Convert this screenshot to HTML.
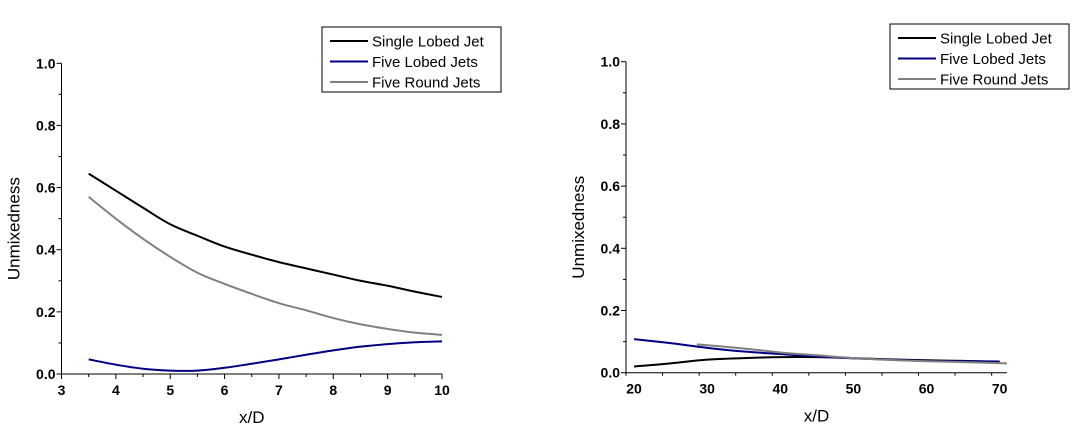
<!DOCTYPE html>
<html><head><meta charset="utf-8"><style>
html,body{margin:0;padding:0;background:#fff;}
svg{display:block;font-family:"Liberation Sans",Arial,sans-serif;}
</style></head><body>
<svg id="chart" width="1077" height="436"></svg>
<script>
const leftX=[3.5,4,4.5,5,5.5,6,6.5,7,7.5,8,8.5,9,9.5,10];
const leftSingle=[0.645,0.59,0.535,0.482,0.445,0.41,0.384,0.36,0.34,0.32,0.30,0.284,0.265,0.248];
const leftRound=[0.57,0.5,0.435,0.377,0.326,0.29,0.258,0.228,0.205,0.18,0.16,0.145,0.133,0.126];
const leftLobed=[0.047,0.03,0.017,0.011,0.011,0.02,0.033,0.047,0.062,0.076,0.088,0.096,0.102,0.105];
const rightX=[20,25,30,35,40,45,50,55,60,65,70];
const rightSingle=[0.02,0.03,0.042,0.047,0.05,0.05,0.047,0.043,0.04,0.038,0.035];
const rightLobed=[0.108,0.095,0.08,0.068,0.06,0.052,0.046,0.042,0.038,0.037,0.036];
const rightRoundX=[28.6,35,40,45,50,55,60,65,71];
const rightRound=[0.091,0.078,0.065,0.056,0.047,0.041,0.037,0.034,0.03];
const leftXTicks=[3,4,5,6,7,8,9,10];
const rightXTicks=[20,30,40,50,60,70];
const yTicks=[0,0.2,0.4,0.6,0.8,1.0];
const legendLabels=["Single Lobed Jet","Five Lobed Jets","Five Round Jets"];
const colors=["#000000","#000080","#808080"];

const NS="http://www.w3.org/2000/svg";
const svg=document.getElementById('chart');
function mk(tag,attrs,parent){const e=document.createElementNS(NS,tag);for(const k in attrs)e.setAttribute(k,attrs[k]);(parent||svg).appendChild(e);return e;}
function smooth(pts){let d="M"+pts[0][0]+","+pts[0][1];for(let i=0;i<pts.length-1;i++){const p0=pts[i-1]||pts[i],p1=pts[i],p2=pts[i+1],p3=pts[i+2]||p2;d+=" C"+(p1[0]+(p2[0]-p0[0])/6)+","+(p1[1]+(p2[1]-p0[1])/6)+" "+(p2[0]-(p3[0]-p1[0])/6)+","+(p2[1]-(p3[1]-p1[1])/6)+" "+p2[0]+","+p2[1];}return d;}

function panel(o){
  const g=mk('g',{});
  
  
  const sx=v=>o.x0+(v-o.xmin)/(o.xmax-o.xmin)*(o.x1-o.x0);
  const sy=v=>o.y0-(v)*(o.y0-o.y1);
  const yax=mk('line',{x1:o.x0,y1:o.y0,x2:o.x0,y2:o.y1,stroke:'#000','stroke-width':1},g);
  
  const xax=mk('line',{x1:o.x0,y1:o.y0,x2:o.x1,y2:o.y0,stroke:'#000','stroke-width':1},g);
  
  for(let i=0;i<=10;i++){const v=i/10,y=sy(v),major=i%2===0;
    mk('line',{x1:o.x0-(major?5:3),y1:y,x2:o.x0,y2:y,stroke:'#000'},g);
  }
  yTicks.forEach(v=>{const t=mk('text',{x:o.x0-6,y:sy(v)+5,'text-anchor':'end','font-size':14,'font-weight':'bold'},g);t.textContent=v.toFixed(1);
    });
  for(let v=o.xmin;v<=o.xmax+1e-9;v+=o.minor){const x=sx(v);const major=Math.abs(v/o.major-Math.round(v/o.major))<1e-6;
    mk('line',{x1:x,y1:o.y0,x2:x,y2:o.y0+(major?5:3),stroke:'#000'},g);}
  o.xticks.forEach(v=>{const t=mk('text',{x:sx(v),y:o.y0+21,'text-anchor':'middle','font-size':14,'font-weight':'bold'},g);t.textContent=v;
    });
  const xt=mk('text',{x:(o.x0+o.x1)/2,y:o.y0+49,'text-anchor':'middle','font-size':17},g);xt.textContent='x/D';
  
  const yt=mk('text',{x:0,y:0,'text-anchor':'middle','font-size':17,transform:'translate('+(o.x0-42)+','+((o.y0+o.y1)/2+10)+') rotate(-90)'},g);yt.textContent='Unmixedness';
  
  o.series.forEach((s,i)=>{const pts=s.x.map((v,j)=>[sx(v),sy(s.y[j])]);
    const p=mk('path',{d:smooth(pts),fill:'none',stroke:colors[s.c],'stroke-width':2},g);
    });
  const lg=mk('g',{},g);
  
  mk('rect',{x:o.lx,y:o.ly,width:179,height:65,fill:'#fff',stroke:'#000'},lg);
  legendLabels.forEach((l,i)=>{const y=o.ly+14+i*20.5;
    mk('line',{x1:o.lx+8,y1:y,x2:o.lx+46,y2:y,stroke:colors[i],'stroke-width':2},lg);
    const t=mk('text',{x:o.lx+50,y:y+5.5,'font-size':15},lg);t.textContent=l;
    });
}
panel({name:'left-panel',x0:61.5,x1:442,y0:374,y1:63.3,xmin:3,xmax:10,major:1,minor:0.5,xticks:leftXTicks,lx:322,ly:27,
  series:[{x:leftX,y:leftSingle,c:0,name:'single-lobed-line'},{x:leftX,y:leftLobed,c:1,name:'five-lobed-line'},{x:leftX,y:leftRound,c:2,name:'five-round-line'}]});
panel({name:'right-panel',x0:626,x1:1007,y0:372.7,y1:61.7,xmin:18.9,xmax:71,major:10,minor:5,xticks:rightXTicks,lx:890,ly:24,
  series:[{x:rightX,y:rightSingle,c:0,name:'single-lobed-line'},{x:rightX,y:rightLobed,c:1,name:'five-lobed-line'},{x:rightRoundX,y:rightRound,c:2,name:'five-round-line'}]});
</script>
</body></html>
